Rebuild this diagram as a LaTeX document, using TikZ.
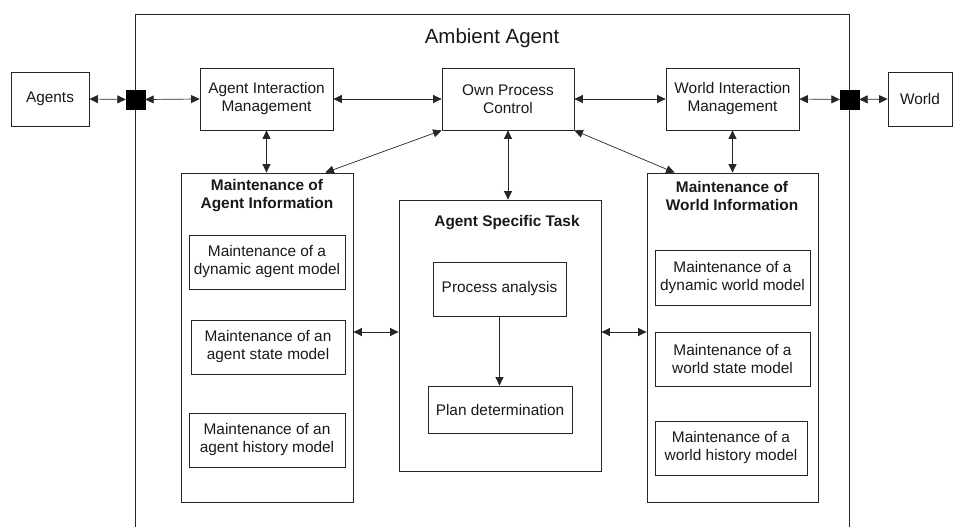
\documentclass[tikz,border=0pt]{standalone}
\usepackage{fontspec}
\setmainfont{Liberation Sans}
\usetikzlibrary{arrows.meta}
\begin{document}
\begin{tikzpicture}[x=1pt,y=-1pt,
 box/.style={draw=black!85, line width=0.8pt, inner sep=0pt, align=center, font=\fontsize{15.4}{18}\selectfont, text=black!90},
 ttl/.style={inner sep=0pt, align=center, font=\fontsize{15.4}{18}\selectfont\bfseries, text=black!90},
 port/.style={draw=black, fill=black, minimum size=19pt, inner sep=0pt},
 conn/.style={line width=0.7pt, draw=black!85, {Triangle[length=8.5pt,width=8pt]}-{Triangle[length=8.5pt,width=8pt]}},
 oneway/.style={line width=0.7pt, draw=black!85, -{Triangle[length=8.5pt,width=8pt]}}
]
\useasboundingbox (0,0) rectangle (954,527);
% Ambient agent frame (open at the bottom edge of the picture)
\draw[line width=0.8pt, black!85] (135,540) -- (135,14) -- (849,14) -- (849,540);
\node[inner sep=0pt, font=\fontsize{20.5}{24}\selectfont, text=black!90] (amb) at (492,38) {Ambient Agent};

% top row
\node[box, minimum width=78pt, minimum height=54pt] (agents) at (50,99) {Agents};
\node[port] (sqL) at (135.5,99.5) {};
\node[box, minimum width=133pt, minimum height=62pt] (aim) at (266.5,99) {Agent Interaction\\Management};
\node[box, minimum width=132pt, minimum height=62pt] (opc) at (508,99) {Own Process\\Control};
\node[box, minimum width=133pt, minimum height=62pt] (wim) at (732.5,99) {World Interaction\\Management};
\node[port] (sqR) at (849.5,99.5) {};
\node[box, minimum width=64pt, minimum height=54pt] (world) at (920,99) {World};

% left block
\node[box, minimum width=172pt, minimum height=329pt] (mai) at (267,337.5) {};
\node[ttl] (mait) at (267,196) {Maintenance of\\Agent Information};
\node[box, minimum width=156pt, minimum height=54pt] (mai1) at (267,262) {Maintenance of a\\dynamic agent model};
\node[box, minimum width=154pt, minimum height=54pt] (mai2) at (268,347) {Maintenance of an\\agent state model};
\node[box, minimum width=156pt, minimum height=54pt] (mai3) at (267,440) {Maintenance of an\\agent history model};

% middle block
\node[box, minimum width=202pt, minimum height=271pt] (ast) at (500,335.5) {};
\node[ttl] (astt) at (507,223) {Agent Specific Task};
\node[box, minimum width=133pt, minimum height=54pt] (pa) at (499.5,289) {Process analysis};
\node[box, minimum width=144pt, minimum height=47pt] (pd) at (500,409.5) {Plan determination};

% right block
\node[box, minimum width=171pt, minimum height=329pt] (mwi) at (732.5,337.5) {};
\node[ttl] (mwit) at (732,196) {Maintenance of\\World Information};
\node[box, minimum width=155pt, minimum height=55pt] (mwi1) at (732.5,277.5) {Maintenance of a\\dynamic world model};
\node[box, minimum width=155pt, minimum height=54pt] (mwi2) at (732.5,359) {Maintenance of a\\world state model};
\node[box, minimum width=152pt, minimum height=54pt] (mwi3) at (731,448) {Maintenance of a\\world history model};

% connectors
\draw[conn] (agents.east) -- (sqL.west);
\draw[conn] (sqL.east) -- (aim.west);
\draw[conn] (aim.east) -- (opc.west);
\draw[conn] (opc.east) -- (wim.west);
\draw[conn] (wim.east) -- (sqR.west);
\draw[conn] (sqR.east) -- (world.west);
\draw[conn] (aim.south) -- (aim.south |- mai.north);
\draw[conn] (opc.south west) -- ([xshift=-28pt]mai.north east);
\draw[conn] (opc.south) -- (opc.south |- ast.north);
\draw[conn] (opc.south east) -- ([xshift=28pt]mwi.north west);
\draw[conn] (wim.south) -- (wim.south |- mwi.north);
\draw[conn] (mai.east |- 0,332) -- ([yshift=3.5pt]ast.west);
\draw[conn] ([yshift=3.5pt]ast.east) -- (mwi.west |- 0,332);
\draw[oneway] (pa.south) -- (pa.south |- pd.north);
\end{tikzpicture}
\end{document}
